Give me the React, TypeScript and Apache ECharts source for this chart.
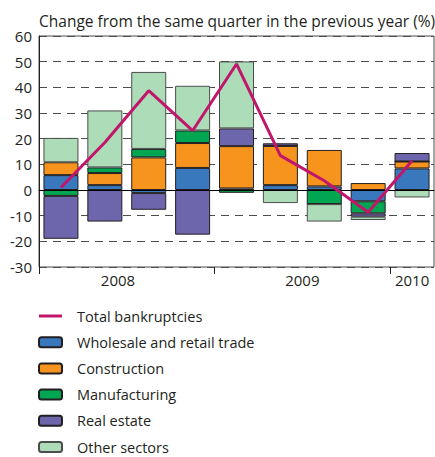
import React, { useEffect, useRef } from "react";
import * as echarts from "echarts";

const quarters = ["2008Q1", "2008Q2", "2008Q3", "2008Q4", "2009Q1", "2009Q2", "2009Q3", "2009Q4", "2010Q1"];
const wholesale = [5.8, 1.9, -1.2, 8.6, 0.6, 1.9, 1.4, -4.4, 8.4];
const construction = [5.0, 4.7, 12.7, 9.7, 16.5, 15.3, 14.2, 2.7, 2.7];
const manufacturing = [-2.3, 2.2, 3.3, 4.9, -1.1, 0, -5.5, -4.7, 0];
const realEstate = [-16.7, -12.3, -6.5, -17.4, 6.9, 1.0, 0, -1.3, 3.3];
const otherSectors = [9.5, 22.2, 30.0, 17.4, 26.1, -5.1, -6.8, -1.3, -2.9];
const totalBankruptcies = [1.0, 18.5, 38.7, 23.1, 49.1, 13.4, 3.6, -8.7, 11.4];

const yearLabels = ["2008", "2009", "2010"];
const yearLabelPositions = [1.8, 6, 8.5];
const yearBoundaries = [0, 4, 8];

const FONT = "Open Sans";
const TEXT = "#231f20";
const LINE_COLOR = "#c1166b";

export default function App() {
  const ref = useRef<HTMLDivElement>(null);
  useEffect(() => {
    if (!ref.current) return;
    const chart = echarts.init(ref.current, null, { renderer: "svg" });
    const barBase = (name: string, data: number[], color: string, border = "#231f20") => ({
      name,
      type: "bar",
      stack: "total",
      data,
      barWidth: 35,
      itemStyle: { color, borderColor: border, borderWidth: 1 },
      xAxisIndex: 0,
      yAxisIndex: 0,
    });
    chart.setOption({
      animation: false,
      textStyle: { fontFamily: FONT, color: TEXT },
      title: {
        text: "Change from the same quarter in the previous year (%)",
        left: 34,
        top: 8,
        textStyle: { fontFamily: FONT, fontSize: 15.5, fontWeight: "normal", color: TEXT },
      },
      grid: {
        left: 39,
        right: 1,
        top: 36,
        bottom: 190,
        show: true,
        borderColor: "#4d4d4d",
        borderWidth: 1,
        containLabel: false,
      },
      legend: {
        orient: "vertical",
        left: 38,
        top: 307,
        height: 200,
        padding: 0,
        itemWidth: 23,
        itemHeight: 10,
        itemGap: 8.2,
        textStyle: { fontFamily: FONT, fontSize: 14.5, color: TEXT, lineHeight: 18, padding: [0, 0, 0, 10] },
        data: [
          {
            name: "Total bankruptcies",
            icon: "path://M0,0 M0,3.5 L23,3.5 L23,6.5 L0,6.5 Z M23,10",
            itemStyle: { color: LINE_COLOR, borderWidth: 0 },
          },
          "Wholesale and retail trade",
          "Construction",
          "Manufacturing",
          "Real estate",
          "Other sectors",
        ],
      },
      xAxis: [
        {
          type: "category",
          data: quarters,
          position: "bottom",
          axisLine: { show: true, lineStyle: { color: "#231f20", width: 1 } },
          axisTick: { show: false },
          axisLabel: { show: false },
          splitLine: { show: false },
        },
        {
          type: "value",
          min: 0,
          max: 9,
          position: "bottom",
          axisLine: { show: false },
          axisTick: {
            show: true,
            length: 7,
            customValues: yearBoundaries,
            lineStyle: { color: "#231f20", width: 1 },
          },
          axisLabel: {
            show: true,
            customValues: yearLabelPositions,
            formatter: (v: number) => {
              const i = yearLabelPositions.findIndex((p) => Math.abs(p - v) < 1e-6);
              return i >= 0 ? yearLabels[i] : "";
            },
            fontFamily: FONT,
            fontSize: 15,
            color: TEXT,
            margin: 5,
          },
          splitLine: { show: false },
        },
      ],
      yAxis: {
        type: "value",
        min: -30,
        max: 60,
        interval: 10,
        axisLine: { show: true, lineStyle: { color: "#231f20", width: 1 } },
        axisTick: { show: false },
        axisLabel: { fontFamily: FONT, fontSize: 15, color: TEXT, margin: 7 },
        splitLine: {
          show: true,
          lineStyle: { color: "#4d4d4d", type: [8, 6], width: 1 },
        },
      },
      series: [
        barBase("Wholesale and retail trade", wholesale, "#3a78bd"),
        barBase("Construction", construction, "#f7941d"),
        barBase("Manufacturing", manufacturing, "#00a651"),
        barBase("Real estate", realEstate, "#6e66ad"),
        {
          ...barBase("Other sectors", otherSectors, "#acdcb8", "#4d4d4d"),
          markLine: {
            silent: true,
            symbol: "none",
            label: { show: false },
            lineStyle: { color: "#000", type: "solid", width: 1 },
            data: [{ yAxis: 0 }],
          },
        },
        {
          name: "Total bankruptcies",
          type: "line",
          data: totalBankruptcies,
          symbol: "none",
          z: 10,
          lineStyle: { color: LINE_COLOR, width: 3 },
          itemStyle: { color: LINE_COLOR },
          xAxisIndex: 0,
          yAxisIndex: 0,
        },
      ],
    });
    return () => chart.dispose();
  }, []);
  return (
    <div
      ref={ref}
      style={{ position: "fixed", left: 0, top: 0, width: 435, height: 457, background: "#fff" }}
    />
  );
}
